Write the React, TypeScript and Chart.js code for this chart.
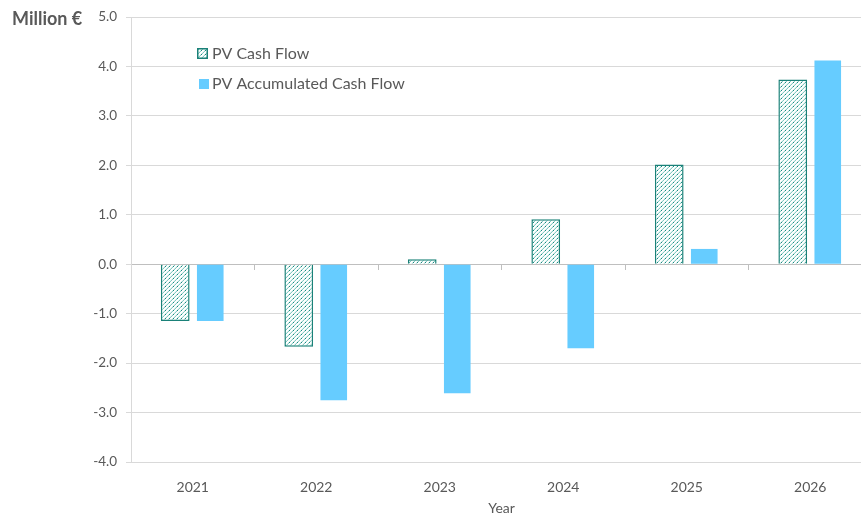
import React, { useEffect, useRef } from "react";
import { Chart, registerables } from "chart.js";

Chart.register(...registerables);

const categories = ["2021", "2022", "2023", "2024", "2025", "2026"];
const pvCashFlow = [-1.15, -1.67, 0.1, 0.91, 2.02, 3.74];
const pvAccumulatedCashFlow = [-1.15, -2.75, -2.61, -1.7, 0.31, 4.12];
const seriesLabels = ["PV Cash Flow", "PV Accumulated Cash Flow"];
const yMin = -4;
const yMax = 5;
const yStep = 1;

const FONT = "Lato, 'Noto Sans', sans-serif";
const TEXT = "#595959";
const TEAL = "#1a8178";
const BLUE = "#66CCFF";

function makePattern(): CanvasPattern | string {
  const n = 8;
  const c = document.createElement("canvas");
  c.width = n;
  c.height = n;
  const g = c.getContext("2d");
  if (!g) return "#ffffff";
  g.fillStyle = "#ffffff";
  g.fillRect(0, 0, n, n);
  for (let x = 0; x < n; x++) {
    for (let y = 0; y < n; y++) {
      const d = (x + y) % 4;
      if (d === 3) {
        g.fillStyle = x % 4 === 1 ? "#1a8a80" : "#86cbc4";
        g.fillRect(x, y, 1, 1);
      } else if (d === 2) {
        g.fillStyle = "#e2f2f0";
        g.fillRect(x, y, 1, 1);
      }
    }
  }
  const p = g.createPattern(c, "repeat");
  return p || "#ffffff";
}

export default function App() {
  const ref = useRef<HTMLCanvasElement | null>(null);

  useEffect(() => {
    document.body.style.overflow = "hidden";
    document.documentElement.style.overflow = "hidden";
    const canvas = ref.current;
    if (!canvas) return;
    const pattern = makePattern();

    const legendPlugin = {
      id: "insideLegend",
      afterDraw(chart: any) {
        const ctx = chart.ctx;
        ctx.save();
        ctx.fillStyle = pattern;
        ctx.fillRect(197, 48, 11, 11);
        ctx.strokeStyle = TEAL;
        ctx.lineWidth = 1.5;
        ctx.strokeRect(197.75, 48.75, 9.5, 9.5);
        ctx.fillStyle = BLUE;
        ctx.fillRect(199, 79, 10, 10);
        ctx.fillStyle = TEXT;
        ctx.font = `16px ${FONT}`;
        ctx.textBaseline = "middle";
        ctx.textAlign = "left";
        ctx.fillText(chart.data.datasets[0].label, 212, 54);
        ctx.fillText(chart.data.datasets[1].label, 212, 84);
        ctx.restore();
      },
    };

    const chart = new Chart(canvas, {
      type: "bar",
      data: {
        labels: categories,
        datasets: [
          {
            label: seriesLabels[0],
            data: pvCashFlow,
            backgroundColor: pattern as any,
            borderColor: TEAL,
            borderWidth: 1.5,
            categoryPercentage: 0.567,
            barPercentage: 0.82,
            xAxisID: "x",
          },
          {
            label: seriesLabels[1],
            data: pvAccumulatedCashFlow,
            backgroundColor: BLUE,
            borderWidth: 0,
            categoryPercentage: 0.567,
            barPercentage: 0.76,
            xAxisID: "x",
          },
        ],
      },
      options: {
        responsive: false,
        animation: false,
        devicePixelRatio: 1,
        layout: { padding: { top: 17, left: 0, right: 0, bottom: 0 } },
        plugins: {
          legend: { display: false },
          tooltip: { enabled: false },
        },
        scales: {
          x: {
            type: "category",
            position: "bottom",
            grid: { display: false },
            border: { display: false },
            ticks: {
              color: TEXT,
              font: { family: FONT, size: 14 },
              padding: 9,
              maxRotation: 0,
            },
            title: {
              display: true,
              text: "Year",
              color: TEXT,
              font: { family: FONT, size: 14 },
              padding: { top: 0, bottom: 0 },
            },
            afterFit(scale: any) {
              scale.height = 55;
            },
          },
          x2: {
            type: "category",
            labels: categories,
            position: { y: 0 } as any,
            offset: true,
            grid: {
              display: true,
              offset: true,
              drawOnChartArea: false,
              drawTicks: true,
              tickLength: 5,
              color: "#bfbfbf",
            },
            border: { display: true, color: "#bfbfbf", width: 1 },
            ticks: { display: false },
          },
          y: {
            min: yMin,
            max: yMax,
            position: "left",
            ticks: {
              stepSize: yStep,
              color: TEXT,
              font: { family: FONT, size: 13.5 },
              padding: 9,
              callback: (v: any) => Number(v).toFixed(1),
            },
            grid: {
              color: "#d9d9d9",
              lineWidth: 1,
              drawTicks: true,
              tickLength: 5,
            },
            border: { display: true, color: "#d9d9d9" },
            afterFit(scale: any) {
              scale.width = 131;
            },
          },
        },
      },
      plugins: [legendPlugin],
    });
    return () => chart.destroy();
  }, []);

  return (
    <div style={{ position: "fixed", left: 0, top: 0, width: 872, height: 517 }}>
      <canvas ref={ref} width={872} height={517} style={{ display: "block" }} />
      <div
        style={{
          position: "absolute",
          left: 12,
          top: 7,
          fontFamily: FONT,
          fontWeight: 700,
          fontSize: 18,
          color: TEXT,
          lineHeight: "22px",
          whiteSpace: "nowrap",
        }}
      >
        Million €
      </div>
    </div>
  );
}
